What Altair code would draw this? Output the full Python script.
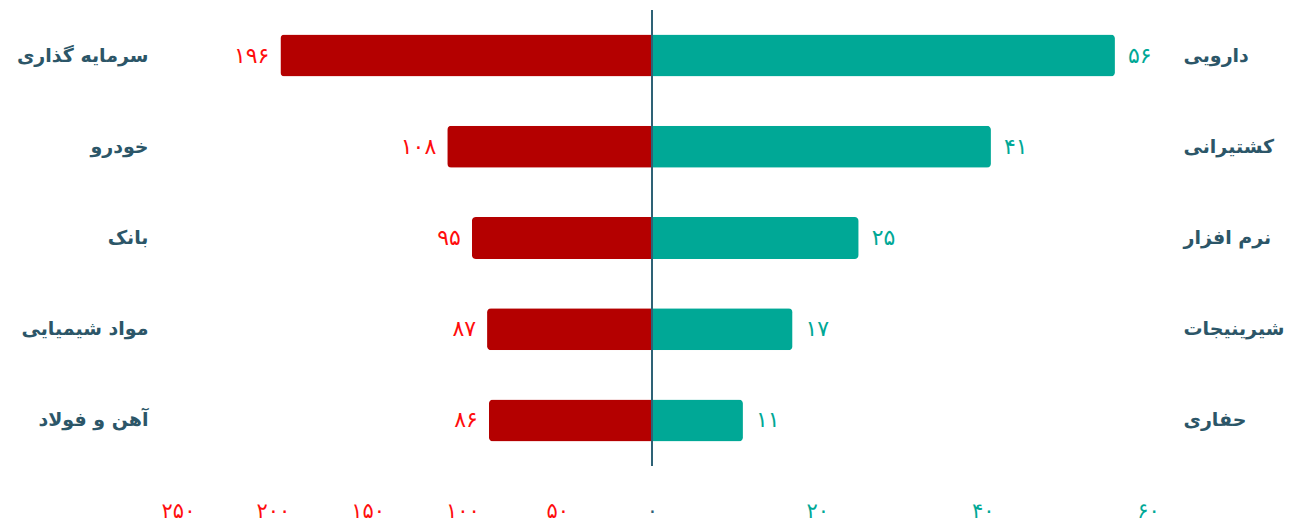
import altair as alt
import pandas as pd

# Left side: sectors and their (red) values
left_sectors = ["سرمایه گذاری", "خودرو", "بانک", "مواد شیمیایی", "آهن و فولاد"]
left_values = [196, 108, 95, 87, 86]

# Right side: sectors and their (teal) values
right_sectors = ["دارویی", "کشتیرانی", "نرم افزار", "شیرینیجات", "حفاری"]
right_values = [56, 41, 25, 17, 11]

# Axis ticks
left_ticks = [0, 50, 100, 150, 200, 250]
right_ticks = [20, 40, 60]

FA_DIGITS = str.maketrans("0123456789", "۰۱۲۳۴۵۶۷۸۹")


def fa(n):
    return str(n).translate(FA_DIGITS)


def label_expr(ticks):
    expr = "''"
    for t in reversed(ticks):
        expr = f"datum.value == {t} ? '{fa(t)}' : ({expr})"
    return expr


RED_BAR = "#b40000"
RED_TEXT = "#ff0d0d"
TEAL = "#00a896"
INK = "#2c5668"
AXIS_LINE = "#2e6276"
FONT = "DejaVu Sans"

left_df = pd.DataFrame({
    "sector": left_sectors,
    "value": left_values,
    "label": [fa(v) for v in left_values],
})
right_df = pd.DataFrame({
    "sector": right_sectors,
    "value": right_values,
    "label": [fa(v) for v in right_values],
})

H = 456
band = alt.Scale(paddingInner=0.54, paddingOuter=0.27)

# ---- left panel (reversed scale, grows to the left)
lx = alt.X(
    "value:Q",
    scale=alt.Scale(domain=[0, 250], reverse=True, nice=False),
    axis=alt.Axis(
        values=left_ticks,
        labelExpr=label_expr(left_ticks),
        labelColor={"condition": {"test": "datum.value == 0", "value": AXIS_LINE},
                    "value": RED_TEXT},
        labelFont=FONT, labelFontSize=21, labelPadding=34, labelFlush=False,
        domain=False, ticks=False, grid=False, title=None,
    ),
)
ly = alt.Y(
    "sector:N", sort=left_sectors, scale=band,
    axis=alt.Axis(
        orient="left", domain=False, ticks=False, title=None,
        labelFont=FONT, labelFontSize=19, labelFontWeight="bold", labelColor=INK,
        labelPadding=30, minExtent=173, maxExtent=173,
    ),
)
left_bars = alt.Chart(left_df).mark_bar(
    color=RED_BAR, cornerRadiusTopLeft=4, cornerRadiusBottomLeft=4
).encode(x=lx, y=ly)
left_text = alt.Chart(left_df).mark_text(
    align="right", baseline="middle", dx=-11, font=FONT, fontSize=22, color=RED_TEXT
).encode(x=lx, y=ly, text="label:N")
left = alt.layer(left_bars, left_text).properties(width=474, height=H)

# ---- right panel
rx = alt.X(
    "value:Q",
    scale=alt.Scale(domain=[0, 60], nice=False),
    axis=alt.Axis(
        values=right_ticks,
        labelExpr=label_expr(right_ticks),
        labelColor=TEAL,
        labelFont=FONT, labelFontSize=21, labelPadding=34, labelFlush=False,
        domain=False, ticks=False, grid=False, title=None,
    ),
)
ry = alt.Y(
    "sector:N", sort=right_sectors, scale=band,
    axis=alt.Axis(
        orient="right", domain=False, ticks=False, title=None,
        labelFont=FONT, labelFontSize=19, labelFontWeight="bold", labelColor=INK,
        labelPadding=35, labelAlign="left", minExtent=150, maxExtent=150,
    ),
)
right_bars = alt.Chart(right_df).mark_bar(
    color=TEAL, cornerRadiusTopRight=4, cornerRadiusBottomRight=4
).encode(x=rx, y=ry)
right_text = alt.Chart(right_df).mark_text(
    align="left", baseline="middle", dx=13, font=FONT, fontSize=22, color=TEAL
).encode(x=rx, y=ry, text="label:N")
center_line = alt.Chart(right_df).mark_rule(
    color=AXIS_LINE, strokeWidth=2
).encode(x=alt.datum(0))
right = alt.layer(right_bars, right_text, center_line).properties(width=496, height=H)

chart = (
    alt.hconcat(left, right, spacing=0, bounds="flush")
    .resolve_scale(x="independent", y="independent")
    .properties(
        background="white",
        padding={"left": 5, "top": 9, "right": 5, "bottom": 5},
    )
    .configure_view(stroke=None, strokeWidth=0)
)

chart.save("out.html", embed_options={"renderer": "svg", "actions": False})
